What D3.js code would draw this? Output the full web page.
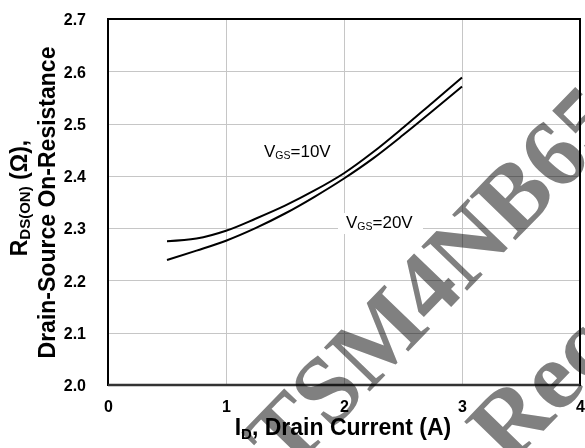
<!DOCTYPE html>
<html>
<head>
<meta charset="utf-8">
<script src="https://cdn.jsdelivr.net/npm/d3@7"></script>
<style>
  html, body { margin: 0; padding: 0; background: #fff; }
  svg { display: block; }
  text.sans { font-family: "Liberation Sans", Arial, sans-serif; }
  text.serif { font-family: "Liberation Serif", "Times New Roman", serif; }
</style>
</head>
<body>
<svg id="chart" width="585" height="448"></svg>
<script>
// ---- data ----
const currentA = [0.5, 0.75, 1.0, 1.25, 1.5, 1.75, 2.0, 2.25, 2.5, 2.75, 3.0];
const rdsVgs10 = [2.275, 2.280, 2.295, 2.318, 2.343, 2.372, 2.405, 2.446, 2.492, 2.540, 2.588];
const rdsVgs20 = [2.239, 2.257, 2.276, 2.300, 2.328, 2.360, 2.395, 2.434, 2.478, 2.524, 2.571];
const xTicks = [0, 1, 2, 3, 4];
const yTicks = [2.0, 2.1, 2.2, 2.3, 2.4, 2.5, 2.6, 2.7];
const seriesLabels = [{ main: "V", sub: "GS", rest: "=10V" }, { main: "V", sub: "GS", rest: "=20V" }];
const watermarkLines = ["TSM4NB65", "Not Recommended"];

// ---- layout ----
const svg = d3.select("#chart");
const pLeft = 108, pRight = 580, pTop = 19, pBottom = 385;
const x = d3.scaleLinear().domain([0, 4]).range([pLeft, pRight]);
const y = d3.scaleLinear().domain([2.0, 2.7]).range([pBottom, pTop]);

// grid
const grid = svg.append("g").attr("stroke", "#c6c6c6").attr("stroke-width", 1);
grid.selectAll("line.v").data(xTicks.slice(1, -1)).join("line")
  .attr("x1", d => Math.round(x(d)) + 0.5).attr("x2", d => Math.round(x(d)) + 0.5)
  .attr("y1", pTop).attr("y2", pBottom);
grid.selectAll("line.h").data(yTicks.slice(1, -1)).join("line")
  .attr("y1", d => Math.round(y(d)) + 0.5).attr("y2", d => Math.round(y(d)) + 0.5)
  .attr("x1", pLeft).attr("x2", pRight);

// curves
const line = d3.line().x(d => x(d[0])).y(d => y(d[1])).curve(d3.curveMonotoneX);
[rdsVgs10, rdsVgs20].forEach(vals => {
  svg.append("path")
    .datum(currentA.map((c, i) => [c, vals[i]]))
    .attr("fill", "none").attr("stroke", "#000").attr("stroke-width", 2)
    .attr("d", line);
});

// series labels
function seriesLabel(lbl, px, py, box) {
  if (box) {
    svg.append("rect").attr("x", px - 8).attr("y", py - 15).attr("width", 85).attr("height", 21).attr("fill", "#fff");
  }
  const t = svg.append("text").attr("class", "sans").attr("x", px).attr("y", py).attr("font-size", 17).attr("fill", "#000");
  t.append("tspan").text(lbl.main);
  t.append("tspan").attr("font-size", 10.5).attr("dy", 2).text(lbl.sub);
  t.append("tspan").attr("dy", -2).text(lbl.rest);
}
seriesLabel(seriesLabels[0], 264, 157, false);
seriesLabel(seriesLabels[1], 346, 228, true);

// frame
svg.append("rect").attr("x", pLeft).attr("y", pTop).attr("width", pRight - pLeft).attr("height", pBottom - pTop)
  .attr("fill", "none").attr("stroke", "#000").attr("stroke-width", 2);
svg.append("line").attr("x1", pLeft).attr("x2", pRight).attr("y1", pBottom).attr("y2", pBottom)
  .attr("stroke", "#333").attr("stroke-width", 2.5);

// axes tick labels
const xAxis = d3.axisBottom(x).tickValues(xTicks).tickSize(0).tickPadding(0).tickFormat(d3.format("d"));
const gx = svg.append("g").attr("transform", `translate(0,${pBottom})`).call(xAxis);
gx.select(".domain").remove();
gx.selectAll("text").attr("class", "sans").attr("y", 27).attr("dy", null).attr("font-size", 16).attr("font-weight", "bold")
  .attr("fill", "#000");

const yAxis = d3.axisLeft(y).tickValues(yTicks).tickSize(0).tickPadding(0).tickFormat(d3.format(".1f"));
const gy = svg.append("g").attr("transform", `translate(86,0)`).call(yAxis);
gy.select(".domain").remove();
gy.selectAll("text").attr("class", "sans").attr("x", 0).attr("dy", "0.36em").attr("font-size", 16).attr("font-weight", "bold")
  .attr("fill", "#000");

// axis titles
const xt = svg.append("text").attr("class", "sans").attr("x", 343).attr("y", 435).attr("text-anchor", "middle")
  .attr("font-size", 23).attr("font-weight", "bold").attr("fill", "#000");
xt.append("tspan").text("I");
xt.append("tspan").attr("font-size", 15).attr("dy", 4).text("D");
xt.append("tspan").attr("dy", -4).text(", Drain Current (A)");

const yt1 = svg.append("text").attr("class", "sans").attr("transform", "translate(27,198) rotate(-90)").attr("text-anchor", "middle")
  .attr("font-size", 23).attr("font-weight", "bold").attr("fill", "#000");
yt1.append("tspan").text("R");
yt1.append("tspan").attr("font-size", 15).attr("dy", 3).text("DS(ON)");
yt1.append("tspan").attr("dy", -3).text(" (\u03A9),");
svg.append("text").attr("class", "sans").attr("transform", "translate(55,202.5) rotate(-90)").attr("text-anchor", "middle")
  .attr("font-size", 23).attr("font-weight", "bold").attr("fill", "#000")
  .text("Drain-Source On-Resistance");

// watermark
const wm = svg.append("g").style("mix-blend-mode", "multiply");
wm.append("text").attr("class", "serif").attr("transform", "translate(286,478) rotate(-46)")
  .attr("font-weight", "bold").attr("font-size", 97).attr("fill", "#808080").text(watermarkLines[0]);
wm.append("text").attr("class", "serif").attr("transform", "translate(387,593) rotate(-46)")
  .attr("font-weight", "bold").attr("font-size", 97).attr("fill", "#808080").text(watermarkLines[1]);
</script>
</body>
</html>
